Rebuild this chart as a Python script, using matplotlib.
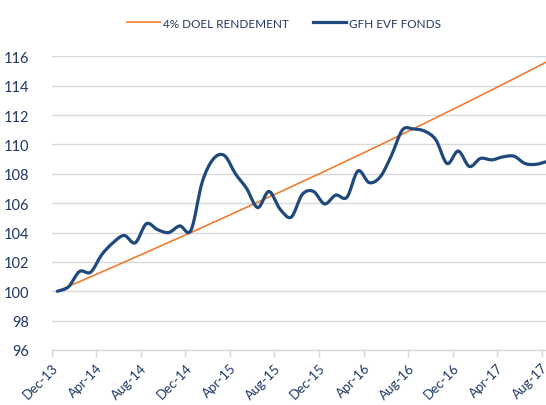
import matplotlib
matplotlib.use("Agg")
import matplotlib.pyplot as plt
from matplotlib.path import Path
from matplotlib.patches import PathPatch
from matplotlib.lines import Line2D
import numpy as np

# monthly series, Dec-13 .. Aug-17
months = ["Dec-13", "Jan-14", "Feb-14", "Mar-14", "Apr-14", "May-14", "Jun-14", "Jul-14",
          "Aug-14", "Sep-14", "Oct-14", "Nov-14", "Dec-14", "Jan-15", "Feb-15", "Mar-15",
          "Apr-15", "May-15", "Jun-15", "Jul-15", "Aug-15", "Sep-15", "Oct-15", "Nov-15",
          "Dec-15", "Jan-16", "Feb-16", "Mar-16", "Apr-16", "May-16", "Jun-16", "Jul-16",
          "Aug-16", "Sep-16", "Oct-16", "Nov-16", "Dec-16", "Jan-17", "Feb-17", "Mar-17",
          "Apr-17", "May-17", "Jun-17", "Jul-17", "Aug-17"]

target = [100.00, 100.33, 100.66, 100.99, 101.32, 101.65, 101.98, 102.32, 102.65, 102.99,
          103.33, 103.67, 104.00, 104.34, 104.69, 105.03, 105.38, 105.72, 106.07, 106.42,
          106.76, 107.12, 107.47, 107.82, 108.17, 108.53, 108.89, 109.25, 109.61, 109.97,
          110.34, 110.71, 111.08, 111.45, 111.82, 112.20, 112.57, 112.95, 113.33, 113.71,
          114.09, 114.48, 114.87, 115.26, 115.65]

fund = [100.0, 100.3, 101.35, 101.3, 102.5, 103.3, 103.8, 103.3, 104.6, 104.2,
        104.0, 104.45, 104.15, 107.4, 109.0, 109.25, 108.0, 107.0, 105.7, 106.8,
        105.6, 105.05, 106.6, 106.8, 105.95, 106.55, 106.4, 108.2, 107.4, 107.8,
        109.25, 111.0, 111.05, 110.9, 110.3, 108.7, 109.55, 108.5, 109.05, 108.95,
        109.15, 109.2, 108.7, 108.65, 108.85]

series_names = ["4% DOEL RENDEMENT", "GFH EVF FONDS"]

ORANGE = "#ED7D31"
BLUE = "#1F497D"
TEXT = "#1F3864"
GRID = "#D9D9D9"

plt.rcParams["font.family"] = ["Lato", "DejaVu Sans"]


def smooth_path(x, y):
    # excel style smoothed line: bezier segments with catmull-rom tangents
    n = len(x)
    verts = [(x[0], y[0])]
    codes = [Path.MOVETO]
    for i in range(n - 1):
        a = i - 1 if i > 0 else i
        b = i + 2 if i + 2 < n else i + 1
        c1 = (x[i] + (x[i + 1] - x[a]) / 6.0, y[i] + (y[i + 1] - y[a]) / 6.0)
        c2 = (x[i + 1] - (x[b] - x[i]) / 6.0, y[i + 1] - (y[b] - y[i]) / 6.0)
        verts += [c1, c2, (x[i + 1], y[i + 1])]
        codes += [Path.CURVE4] * 3
    return Path(verts, codes)


fig = plt.figure(figsize=(5.46, 4.06), dpi=100)
ax = fig.add_axes([0.0947, 0.1355, 0.918, 0.7232])

xs = np.arange(len(months))

ax.plot(xs, target, color=ORANGE, lw=1.2, zorder=3)
ax.add_patch(PathPatch(smooth_path(xs, fund), fill=False, edgecolor=BLUE, lw=2.3,
                       capstyle="round", joinstyle="round", zorder=4))

ax.set_xlim(-0.5, len(months) - 0.5)
ax.set_ylim(96, 116)
ax.set_yticks(np.arange(96, 117, 2))
ax.yaxis.grid(True, color=GRID, lw=1.0)
ax.set_axisbelow(True)

tick_idx = list(range(0, len(months), 4))
ax.set_xticks([i - 0.5 for i in tick_idx])
ax.set_xticklabels([months[i] for i in tick_idx], rotation=45, ha="right",
                   rotation_mode="anchor", fontsize=9.5, color=TEXT)
ax.tick_params(axis="x", length=5, color=GRID, width=1, pad=3)
ax.tick_params(axis="y", length=0, pad=16, labelsize=10.5, labelcolor=TEXT)

for side in ["top", "right", "left"]:
    ax.spines[side].set_visible(False)
ax.spines["bottom"].set_color(GRID)
ax.spines["bottom"].set_linewidth(1.0)

handles = [Line2D([], [], color=ORANGE, lw=1.2), Line2D([], [], color=BLUE, lw=2.3)]
fig.legend(handles, series_names, loc="center", bbox_to_anchor=(0.52, 1 - 24 / 406.0),
           ncol=2, frameon=False, fontsize=8.5, handlelength=2.8, handletextpad=0.3,
           columnspacing=2.0, labelcolor=TEXT)

fig.savefig("out.png", dpi=100)
